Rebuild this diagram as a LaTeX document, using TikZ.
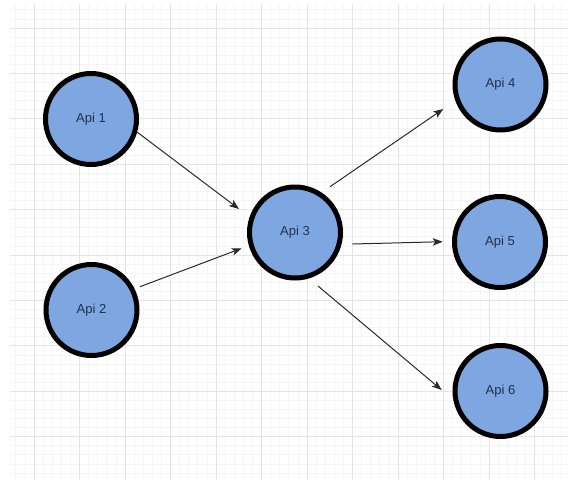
\documentclass[tikz,border=0pt]{standalone}
\usepackage{fontspec}
\setmainfont{Liberation Sans}
\usetikzlibrary{arrows.meta,calc}
\definecolor{apifill}{HTML}{7EA6E0}
\definecolor{apitext}{HTML}{22304F}
\definecolor{gridminor}{HTML}{F5F5F5}
\definecolor{gridmajor}{HTML}{E4E4E4}
\definecolor{arrowcol}{HTML}{2A2A2A}
\tikzset{
  api/.style={circle, draw=black, line width=5pt, fill=apifill, minimum size=91pt, inner sep=0pt,
              text=apitext, font=\fontsize{13}{15}\selectfont},
  link/.style={draw=arrowcol, line width=1pt, -{Stealth[length=10pt,width=7.5pt,inset=2.5pt]}},
  minorline/.style={draw=gridminor, line width=0.7pt},
  majorline/.style={draw=gridmajor, line width=0.8pt}
}
\begin{document}
\begin{tikzpicture}[x=1pt,y=-1pt]
\useasboundingbox (0,0) rectangle (569,482);
\fill[white] (0,0) rectangle (569,482);
% grid
\foreach \i in {-2,...,58} \draw[minorline] ({34+\i*9.1},4) -- ({34+\i*9.1},480);
\foreach \j in {-2,...,49} \draw[minorline] (10,{28+\j*9.08}) -- (568,{28+\j*9.08});
\foreach \i in {0,...,11} \draw[majorline] ({34+\i*45.5},4) -- ({34+\i*45.5},480);
\foreach \j in {0,...,9} \draw[majorline] (10,{28+\j*45.4}) -- (568,{28+\j*45.4});
% nodes
\node[api] (a1) at (91,119) {Api 1};
\node[api] (a2) at (91.5,310) {Api 2};
\node[api] (a3) at (295,232.5) {Api 3};
\node[api] (a4) at (500.5,84.5) {Api 4};
\node[api] (a5) at (500,242) {Api 5};
\node[api] (a6) at (500.5,391) {Api 6};
% connectors
\draw[link] ($(a1)+(46,13)$) -- ($(a3)+(-56,-23.5)$);
\draw[link] ($(a2)+(48.5,-23.3)$) -- ($(a3)+(-53.3,15.8)$);
\draw[link] ($(a3)+(35,-45.8)$) -- ($(a4)+(-57.2,24.5)$);
\draw[link] ($(a3)+(57.3,11.5)$) -- ($(a5)+(-57.3,-0.3)$);
\draw[link] ($(a3)+(23,53.5)$) -- ($(a6)+(-58.8,-1)$);
\end{tikzpicture}
\end{document}
